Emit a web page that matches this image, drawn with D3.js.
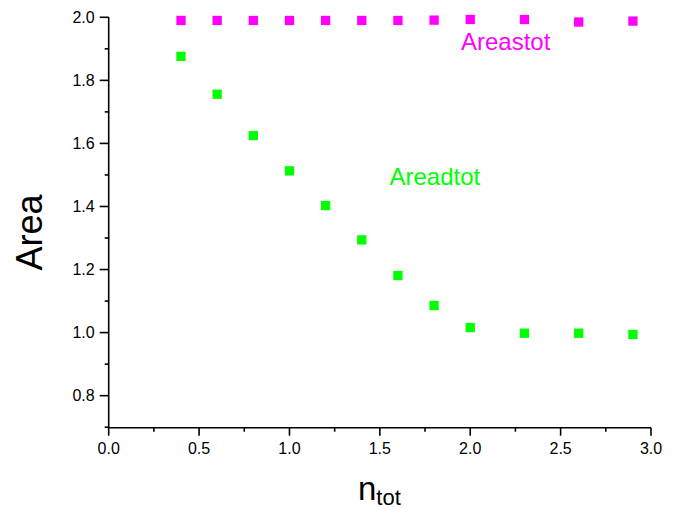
<!DOCTYPE html>
<html><head><meta charset="utf-8">
<script src="https://cdn.jsdelivr.net/npm/d3@7"></script>
<style>body{margin:0;background:#fff}svg{display:block}text{font-family:"Liberation Sans",Arial,sans-serif}</style>
</head><body>
<svg id="c" width="692" height="510"></svg>
<script>
const nTot = [0.4,0.6,0.8,1.0,1.2,1.4,1.6,1.8,2.0,2.3,2.6,2.9];
const areaStot = [1.990,1.990,1.990,1.990,1.990,1.990,1.990,1.991,1.993,1.993,1.985,1.988];
const areaDtot = [1.876,1.756,1.625,1.513,1.403,1.294,1.181,1.086,1.016,0.998,0.998,0.994];
const xTicks = [0.0,0.5,1.0,1.5,2.0,2.5,3.0];
const yTicks = [0.8,1.0,1.2,1.4,1.6,1.8,2.0];

const svg = d3.select("#c");
const x = d3.scaleLinear().domain([0,3]).range([108.7,651]);
const y = d3.scaleLinear().domain([0.7,2.0]).range([427.2,17.3]);

// axes
const gx = svg.append("g").attr("transform","translate(0,427.7)");
gx.append("line").attr("x1",x(0)).attr("x2",x(3)).attr("stroke","#000").attr("stroke-width",1.6);
const xMinor = d3.range(0,3.001,0.25);
gx.selectAll(".mt").data(xMinor).join("line")
  .attr("x1",d=>x(d)).attr("x2",d=>x(d)).attr("y1",0)
  .attr("y2",(d,i)=> i%2===0 ? 8 : 4).attr("stroke","#000").attr("stroke-width",1.6);
gx.selectAll(".tl").data(xTicks).join("text")
  .attr("x",d=>x(d)).attr("y",26.5).attr("text-anchor","middle")
  .attr("font-size",16).text(d=>d.toFixed(1));

const gy = svg.append("g").attr("transform","translate(108.7,0)");
gy.append("line").attr("y1",y(0.7)).attr("y2",y(2.0)).attr("stroke","#000").attr("stroke-width",1.6);
const yMinor = d3.range(0.7,2.0001,0.1);
gy.selectAll(".mt").data(yMinor).join("line")
  .attr("y1",d=>y(d)).attr("y2",d=>y(d)).attr("x1",0)
  .attr("x2",(d,i)=> i%2===1 ? -9 : -4).attr("stroke","#000").attr("stroke-width",1.6);
gy.selectAll(".tl").data(yTicks).join("text")
  .attr("x",-14).attr("y",d=>y(d)+5.5).attr("text-anchor","end")
  .attr("font-size",16).text(d=>d.toFixed(1));

// axis titles
svg.append("text").attr("transform","translate(42.3,232.5) rotate(-90)")
  .attr("text-anchor","middle").attr("font-size",36).text("Area");
const xt = svg.append("text").attr("x",358).attr("y",500).attr("font-size",33);
xt.append("tspan").text("n");
xt.append("tspan").attr("font-size",22).attr("dy",5).text("tot");

// markers
const s = 9.3;
svg.selectAll(".ps").data(nTot).join("rect")
  .attr("x",(d)=>x(d)-s/2).attr("y",(d,i)=>y(areaStot[i])-s/2)
  .attr("width",s).attr("height",s).attr("fill","#ff00ff");
svg.selectAll(".pd").data(nTot).join("rect")
  .attr("x",(d)=>x(d)-s/2).attr("y",(d,i)=>y(areaDtot[i])-s/2)
  .attr("width",s).attr("height",s).attr("fill","#00ff00");

// labels
svg.append("text").attr("x",461).attr("y",50).attr("font-size",24).attr("fill","#ff00ff").text("Areastot");
svg.append("text").attr("x",389.5).attr("y",185).attr("font-size",24).attr("fill","#00ff00").text("Areadtot");
</script>
</body></html>
